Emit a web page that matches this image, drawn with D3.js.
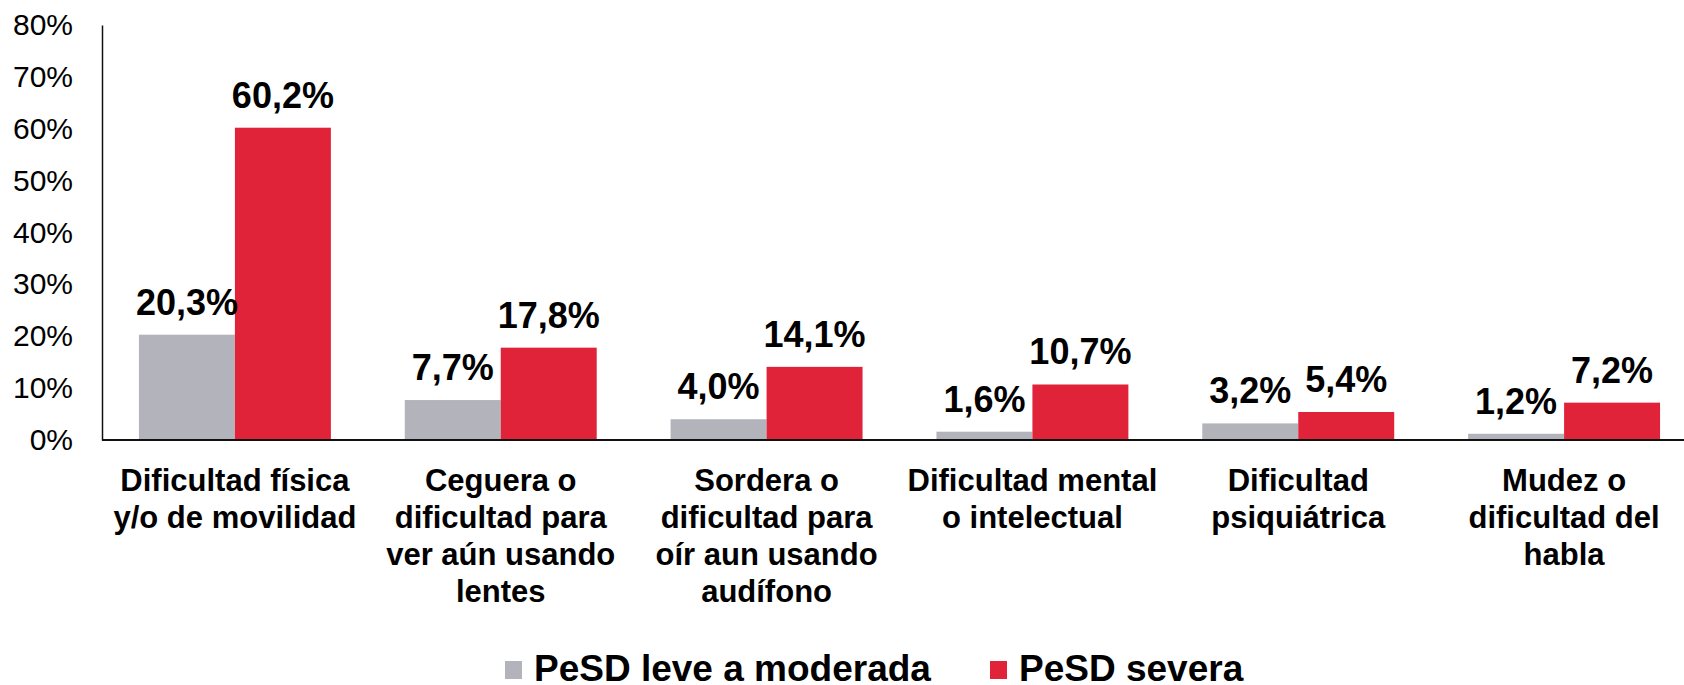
<!DOCTYPE html>
<html>
<head>
<meta charset="utf-8">
<script src="https://cdn.jsdelivr.net/npm/d3@7"></script>
<style>
  body { margin: 0; background: #fff; }
  text { font-family: "Liberation Sans", Arial, sans-serif; fill: #000; }
</style>
</head>
<body>
<script>
// categories (each entry = lines of the axis label)
const categories = [
    ["Dificultad física", "y/o de movilidad"],
    ["Ceguera o", "dificultad para", "ver aún usando", "lentes"],
    ["Sordera o", "dificultad para", "oír aun usando", "audífono"],
    ["Dificultad mental", "o intelectual"],
    ["Dificultad", "psiquiátrica"],
    ["Mudez o", "dificultad del", "habla"],
];
const seriesNames = ["PeSD leve a moderada", "PeSD severa"];
const seriesColors = ["#b3b3bb", "#e1233a"];
const leveValues = [20.3, 7.7, 4.0, 1.6, 3.2, 1.2];
const severaValues = [60.2, 17.8, 14.1, 10.7, 5.4, 7.2];
const yTicks = [0, 10, 20, 30, 40, 50, 60, 70, 80];

const dimensions = {
    width: 1684,
    height: 685,
    left: 102,
    top: 25,
    baseline: 440,
    groupEnd: 1697,
}

const svg = d3.select("body").append("svg")
    .attr("width", dimensions.width)
    .attr("height", dimensions.height);

const catIndex = categories.map((c, i) => i);
const dataset = catIndex.map(i => ({ i, values: [leveValues[i], severaValues[i]] }));

const x0 = d3.scaleBand()
    .domain(catIndex)
    .range([dimensions.left, dimensions.groupEnd])
    .paddingInner(0.278)
    .paddingOuter(0.139);

const x1 = d3.scaleBand()
    .domain([0, 1])
    .range([0, x0.bandwidth()]);

const y = d3.scaleLinear()
    .domain([0, 80])
    .range([dimensions.baseline, dimensions.top]);

// y axis
const yAxis = svg.append("g")
    .attr("transform", `translate(${dimensions.left},0)`)
    .call(d3.axisLeft(y).tickValues(yTicks).tickSize(0).tickPadding(29).tickFormat(d => d + "%"));
yAxis.select(".domain").attr("stroke", "#111").attr("stroke-width", 1.5);
yAxis.selectAll("text")
    .style("font-family", '"Liberation Sans", Arial, sans-serif')
    .style("font-size", "30px")
    .attr("fill", "#000");

// bars
const groups = svg.append("g").selectAll("g")
    .data(dataset)
    .join("g")
    .attr("transform", d => `translate(${x0(d.i)},0)`);

groups.selectAll("rect")
    .data(d => d.values.map((v, s) => ({ v, s })))
    .join("rect")
    .attr("x", d => x1(d.s))
    .attr("width", x1.bandwidth())
    .attr("y", d => y(d.v))
    .attr("height", d => y(0) - y(d.v))
    .attr("fill", d => seriesColors[d.s]);

groups.selectAll("text.val")
    .data(d => d.values.map((v, s) => ({ v, s })))
    .join("text")
    .attr("class", "val")
    .attr("x", d => x1(d.s) + x1.bandwidth() / 2)
    .attr("y", d => y(d.v) - 20)
    .attr("text-anchor", "middle")
    .style("font-size", "36px")
    .style("font-weight", "bold")
    .text(d => d.v.toFixed(1).replace(".", ",") + "%");

// x axis line
svg.append("line")
    .attr("x1", dimensions.left)
    .attr("x2", dimensions.width)
    .attr("y1", y(0))
    .attr("y2", y(0))
    .attr("stroke", "#111")
    .attr("stroke-width", 2);

// category labels
const catLabels = svg.append("g").selectAll("text")
    .data(dataset)
    .join("text")
    .attr("x", d => x0(d.i) + x0.bandwidth() / 2)
    .attr("y", 491)
    .attr("text-anchor", "middle")
    .style("font-size", "31px")
    .style("font-weight", "bold");

catLabels.selectAll("tspan")
    .data(d => categories[d.i])
    .join("tspan")
    .attr("x", function () { return d3.select(this.parentNode).attr("x"); })
    .attr("dy", (d, k) => k === 0 ? 0 : 37)
    .text(d => d);

// legend
const legendX = [505, 990];
const legend = svg.append("g").selectAll("g")
    .data(seriesNames)
    .join("g")
    .attr("transform", (d, i) => `translate(${legendX[i]},0)`);

legend.append("rect")
    .attr("y", 661)
    .attr("width", 17)
    .attr("height", 18)
    .attr("fill", (d, i) => seriesColors[i]);

legend.append("text")
    .attr("x", 29)
    .attr("y", 681)
    .style("font-size", "37px")
    .style("font-weight", "bold")
    .text(d => d);
</script>
</body>
</html>
